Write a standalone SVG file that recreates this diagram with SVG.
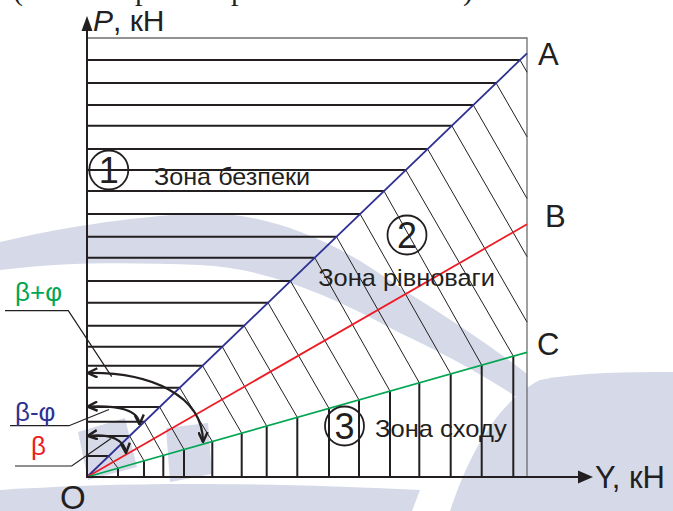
<svg xmlns="http://www.w3.org/2000/svg" width="673" height="511" viewBox="0 0 673 511">
<defs>
<style>
.ln{fill:none;stroke:#231f20;stroke-linecap:butt}
.thick{stroke-width:2}
.thin{stroke-width:1}
.lead{fill:none;stroke:#231f20;stroke-width:1.2}
.arc{fill:none;stroke:#231f20;stroke-width:2.2;marker-start:url(#chev);marker-end:url(#chev)}
.lbl{font-family:"Liberation Sans",Arial,sans-serif;fill:#231f20}
.zone{font-family:"Liberation Sans",Arial,sans-serif;font-size:24px;fill:#231f20}
.num{font-family:"Liberation Sans",Arial,sans-serif;font-size:36px;fill:#231f20;text-anchor:middle}
.ring{fill:none;stroke:#231f20;stroke-width:1.8}
.greek{font-family:"Liberation Sans",Arial,sans-serif;font-size:26px}
.wm{fill:#d5d9e8;stroke:none}
</style>
<marker id="chev" viewBox="0 0 10 10" refX="9.5" refY="5" markerWidth="11" markerHeight="11" markerUnits="userSpaceOnUse" orient="auto-start-reverse">
<path d="M0.5,0.8 L9.5,5 L0.5,9.2" fill="none" stroke="#231f20" stroke-width="2.2"/>
</marker>
</defs>
<rect width="673" height="511" fill="#ffffff"/>
<g id="watermark">
<path class="wm" d="M0,242 C60,228 120,218 200,213 C260,212 330,235 400,288 C440,312 490,345 527,374 L527,404 C480,372 440,352 400,333 C340,300 270,268 200,265 C130,262 60,262 0,270 Z"/>
<path class="wm" d="M78,432 L125,418 L137,467 L88,480 Z"/>
<path class="wm" d="M166,428 L208,423 L212,474 L170,482 Z"/>
<path class="wm" d="M450,511 C470,450 500,400 540,380 C580,372 630,372 673,372 L673,511 Z"/>
<path class="wm" d="M0,490 C120,482 250,482 420,490 L412,511 L0,511 Z"/>
</g>
<g id="topfragment" font-family="Liberation Serif,Times New Roman,serif" font-size="30" fill="#231f20">
<text x="13" y="0">(</text>
<text x="135" y="0">р</text>
<text x="231" y="0">р</text>
<text x="463" y="0">)</text>
</g>
<g id="frame">
<path d="M87,38 H527 V477" fill="none" stroke="#6d6e71" stroke-width="1.3"/>
</g>
<g id="hatching">
<path class="ln thick" d="M87 456H108.8 M87 436H129.6 M87 421.7H144.4 M87 407H159.7 M87 387.7H179.7 M87 365.7H202.6 M87 346.7H222.3 M87 325.7H244.1 M87 302.7H268 M87 281H290.5 M87 257.7H314.7 M87 236.7H336.5 M87 214H360.1 M87 191H384 M87 170H405.8 M87 149H427.6 M87 125.7H451.8 M87 105H473.3 M87 83H496.1 M87 60H520"/>
<path class="ln thin" d="M108.8 456L118 468.2 M129.6 436L144 460.8 M144.4 421.7L163.3 455.4 M159.7 407L184 449.5 M179.7 387.7L212.3 441.5 M202.6 365.7L241.7 433.2 M222.3 346.7L266.7 426.1 M244.1 325.7L297.3 417.4 M268 302.7L329 408.4 M290.5 281L359 399.9 M314.7 257.7L390 391.1 M336.5 236.7L419.3 382.8 M360.1 214L450.7 373.9 M384 191L481.7 365.1 M405.8 170L513.3 356.2 M427.6 149L527 322.1 M451.8 125.7L527 256.6 M473.3 105L527 198.5 M496.1 83L527 136.8 M520 60L527 72.2"/>
<path class="ln thick" d="M118 468.2V477 M144 460.8V477 M163.3 455.4V477 M184 449.5V477 M212.3 441.5V477 M241.7 433.2V477 M266.7 426.1V477 M297.3 417.4V477 M329 408.4V477 M359 399.9V477 M390 391.1V477 M419.3 382.8V477 M450.7 373.9V477 M481.7 365.1V477 M513.3 356.2V477"/>
</g>
<g id="lines">
<line x1="87" y1="477" x2="527" y2="53.3" stroke="#2e3192" stroke-width="1.8"/>
<line x1="87" y1="477" x2="527" y2="224.3" stroke="#ed1c24" stroke-width="1.8"/>
<line x1="87" y1="477" x2="527" y2="352.3" stroke="#00a651" stroke-width="1.8"/>
</g>
<g id="axes">
<path d="M87,477 V30" fill="none" stroke="#231f20" stroke-width="2"/>
<polygon points="87,16 92.5,31 81.5,31" fill="#231f20"/>
<path d="M86,477 H580" fill="none" stroke="#231f20" stroke-width="2"/>
<polygon points="593,477 578,470.5 578,483.5" fill="#231f20"/>
</g>
<g id="connectors">
<path class="arc" d="M87.5,373 C150,372 203,395 203,442"/>
<path class="arc" d="M87.5,406.7 C118,405 139,410 139.5,424.5"/>
<path class="arc" d="M87.5,436 C110,433 125,440 126,453"/>
<path class="lead" d="M5,310.7 H68.3 L111.7,376.7"/>
<path class="lead" d="M10,425.7 H69 L109,409.5"/>
<path class="lead" d="M15,466 H71.7 L111,438.5"/>
</g>
<g id="labels">
<text class="lbl" x="93" y="31" font-size="30"><tspan font-style="italic">P</tspan>, кН</text>
<text class="lbl" x="595" y="488" font-size="31">Y, кН</text>
<text class="lbl" x="538" y="65" font-size="31">A</text>
<text class="lbl" x="545" y="227" font-size="31">B</text>
<text class="lbl" x="537" y="355" font-size="31">C</text>
<text class="lbl" x="60" y="509" font-size="33">O</text>
<text class="greek" x="15" y="301" fill="#00a651">β+φ</text>
<text class="greek" x="15" y="421" fill="#2e3192">β-φ</text>
<text class="greek" x="31" y="455" fill="#ed1c24">β</text>
</g>
<g id="zone1">
<circle class="ring" cx="108.8" cy="170" r="19.5"/>
<text class="num" x="108.8" y="183">1</text>
<text class="zone" x="154" y="185" textLength="156" lengthAdjust="spacingAndGlyphs">Зона безпеки</text>
</g>
<g id="zone2">
<circle class="ring" cx="407" cy="235" r="19.5"/>
<text class="num" x="407" y="248">2</text>
<text class="zone" x="318.3" y="286" textLength="176.7" lengthAdjust="spacingAndGlyphs">Зона рівноваги</text>
</g>
<g id="zone3">
<circle class="ring" cx="344.5" cy="426" r="19.5"/>
<text class="num" x="344.5" y="439">3</text>
<text class="zone" x="375" y="436.5" textLength="131.7" lengthAdjust="spacingAndGlyphs">Зона сходу</text>
</g>
</svg>
